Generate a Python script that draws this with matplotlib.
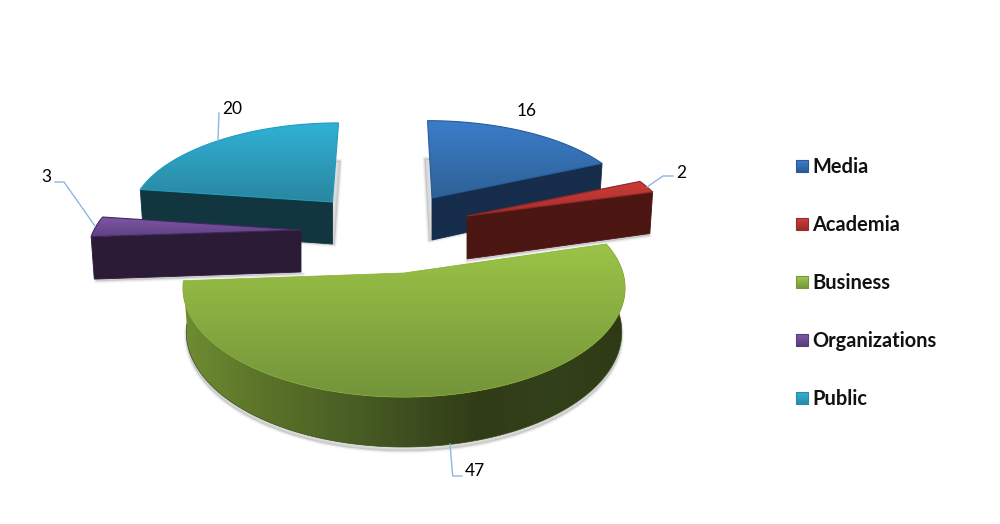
import numpy as np
import matplotlib
matplotlib.use("Agg")
import matplotlib.pyplot as plt
from matplotlib.patches import Polygon
from matplotlib.colors import LinearSegmentedColormap

categories = ["Media", "Academia", "Business", "Organizations", "Public"]
values = [16, 2, 47, 3, 20]

# projection and style of each exploded slice (pixels)
K = 0.138
geom = {
    "Media":         dict(c=(432, 198), rx=200, ry=88, d=42, sh=0.058, cut="end",   sdw=(-3, 1)),
    "Academia":      dict(c=(467, 216), rx=201, ry=88, d=43, sh=0.0,   cut="end",   sdw=(0, 2)),
    "Business":      dict(c=(404, 273), rx=219, ry=107, d=43, sh=0.0,  cut=None,    sdw=(0, 4)),
    "Organizations": dict(c=(301, 230), rx=207, ry=93, d=42, sh=-0.2,  cut="start", sdw=(2, 2)),
    "Public":        dict(c=(332.5, 202), rx=199, ry=90, d=42, sh=-0.076, cut="start", sdw=(2, 1)),
}
top_cols = {
    "Media": ("#3B7DCB", "#2E6196"), "Academia": ("#CC3C38", "#A32F2C"),
    "Business": ("#9CC447", "#73943A"), "Organizations": ("#7E56A4", "#5F4083"),
    "Public": ("#30B2D6", "#2A86A0"),
}
edge_cols = {"Media": "#2A5C9A", "Academia": "#8E2522", "Business": "#86AE2E",
             "Organizations": "#3F2A5C", "Public": "#1E9DC0"}
side_cols = {"Media": "#162D4C", "Academia": "#4C1612", "Organizations": "#2B1B37",
             "Public": "#12363F"}
business_wall = ["#6F8D33", "#5C7529", "#4D6325", "#3F5020", "#303C16", "#33411A", "#2E3A15"]
legend_cols = {"Media": ("#3F80CC", "#2A5A94"), "Academia": ("#CE3F3B", "#9A2B28"),
               "Business": ("#A2C852", "#76983A"), "Organizations": ("#8059A6", "#583C7C"),
               "Public": ("#33B4D8", "#288BA6")}
label_pos = {"Media": (527, 110.5), "Academia": (681, 172.5), "Business": (475, 470.5),
             "Organizations": (46, 177.5), "Public": (232, 109.5)}
leaders = {"Academia": [(647, 187), (663, 176), (673, 176)],
           "Business": [(450, 444), (452.7, 476), (462, 476)],
           "Organizations": [(95, 226), (64, 182), (55, 182)],
           "Public": [(218, 140), (219, 113)]}

FONT = "Lato"
fig = plt.figure(figsize=(10, 5.24), dpi=100, facecolor="white")
ax = fig.add_axes([0, 0, 1, 1])
ax.axis("off")


def project(g, theta, depth=0.0):
    X, Y = np.sin(theta), np.cos(theta)
    w = 1 + K * Y
    scale = 0.985 if depth else 1.0
    px = g["rx"] * X / w
    py = -g["ry"] * Y / w
    x = g["c"][0] + (px + g["sh"] * py) * scale
    y = g["c"][1] + py + depth / w
    return np.column_stack([x, y])


def grad_poly(pts, colors, horizontal=False, zorder=1, edge=None, lw=0.8):
    pts = np.asarray(pts)
    cmap = LinearSegmentedColormap.from_list("g", colors)
    ramp = np.linspace(0, 1, 256)
    img = ramp[None, :] if horizontal else ramp[:, None]
    x0, x1, y0, y1 = pts[:, 0].min(), pts[:, 0].max(), pts[:, 1].min(), pts[:, 1].max()
    im = ax.imshow(img, cmap=cmap, extent=(x0, x1, y1, y0), aspect="auto", zorder=zorder,
                   interpolation="bilinear")
    clip = Polygon(pts, closed=True, transform=ax.transData, fc="none", ec="none")
    ax.add_patch(clip)
    im.set_clip_path(clip)
    if edge:
        ax.add_patch(Polygon(pts, closed=True, fc="none", ec=edge, lw=lw, zorder=zorder + 0.01))


total = sum(values)
edges = np.cumsum([0] + values) / total * 2 * np.pi
spans = {c: (edges[i], edges[i + 1]) for i, c in enumerate(categories)}
order = ["Media", "Public", "Organizations", "Academia", "Business"]

for n, cat in enumerate(order):
    g = geom[cat]
    a0, a1 = spans[cat]
    t = np.linspace(a0, a1, 200)
    rim = project(g, t)
    rim_low = project(g, t, g["d"])
    apex = np.array([g["c"]], dtype=float)
    apex_low = apex + [0, g["d"]]
    z = 2 + n

    # soft shadow under the slice
    sdw = np.vstack([apex_low, rim_low]) + np.array(g["sdw"])
    for lw, alpha in [(3.5, 0.07), (2, 0.10), (1, 0.14)]:
        ax.add_patch(Polygon(sdw, closed=True, fc="#8c8c8c", ec="#8c8c8c", alpha=alpha, lw=lw,
                             joinstyle="round", zorder=z))

    if cat == "Business":
        wall = np.vstack([rim, rim_low[::-1]])
        grad_poly(wall, business_wall, horizontal=True, zorder=z + 0.1)
        ax.plot(rim_low[:, 0], rim_low[:, 1], color="#3A4C15", lw=0.5, zorder=z + 0.2)
        grad_poly(np.vstack([apex, rim]), top_cols[cat], zorder=z + 0.3, edge=edge_cols[cat], lw=0.5)
    else:
        idx = -1 if g["cut"] == "end" else 0
        face = np.vstack([apex, rim[idx], rim_low[idx], apex_low])
        grad_poly(face, [side_cols[cat], side_cols[cat]], zorder=z + 0.1,
                  edge=side_cols[cat], lw=0.6)
        grad_poly(np.vstack([apex, rim]), top_cols[cat], zorder=z + 0.3, edge=edge_cols[cat], lw=0.8)

# data labels and leader lines
for cat, val in zip(categories, values):
    if cat in leaders:
        pts = np.array(leaders[cat])
        ax.plot(pts[:, 0], pts[:, 1], color="#8DB6E6", lw=1.0, zorder=20)
    x, y = label_pos[cat]
    ax.text(x, y, str(val), fontsize=12.5, family=FONT, color="black",
            ha="center", va="center", zorder=21)

# legend
legend_y = [166, 224, 282, 340, 398]
for cat, y in zip(categories, legend_y):
    sq = [(796, y - 6), (808, y - 6), (808, y + 6), (796, y + 6)]
    grad_poly(sq, legend_cols[cat], zorder=20, edge=legend_cols[cat][1], lw=0.8)
    ax.text(812.5, y + 1, cat, fontsize=14.4, family=FONT, fontweight="bold", color="#111111",
            ha="left", va="center", zorder=21)

ax.set_xlim(0, 1000)
ax.set_ylim(524, 0)
fig.savefig("out.png", dpi=100, facecolor="white")
